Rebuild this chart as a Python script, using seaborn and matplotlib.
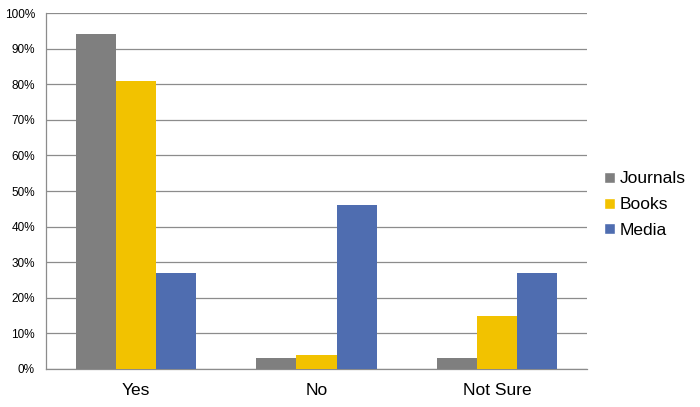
import pandas as pd
import matplotlib
matplotlib.use("Agg")
import matplotlib.pyplot as plt
import seaborn as sns
from matplotlib.patches import Patch
from matplotlib.ticker import FuncFormatter

# data
answers = ["Yes", "No", "Not Sure"]
journals = [94, 3, 3]
books = [81, 4, 15]
media = [27, 46, 27]
series = ["Journals", "Books", "Media"]
colors = ["#7f7f7f", "#f2c200", "#4f6db0"]

df = pd.DataFrame({
    "Answer": answers * 3,
    "Source": ["Journals"] * 3 + ["Books"] * 3 + ["Media"] * 3,
    "Value": journals + books + media,
})

sns.set_style("white")
plt.rcParams["font.family"] = ["Liberation Sans", "DejaVu Sans"]
plt.rcParams["text.color"] = "black"
plt.rcParams["xtick.color"] = "black"
plt.rcParams["ytick.color"] = "black"

fig = plt.figure(figsize=(7, 4.07), dpi=100)
ax = fig.add_axes([0.0657, 0.0934, 0.7729, 0.8746])

sns.barplot(data=df, x="Answer", y="Value", hue="Source", order=answers,
            hue_order=series, palette=colors, width=0.667, gap=0,
            saturation=1, errorbar=None, legend=False, ax=ax, zorder=3,
            linewidth=0)

ax.set_xlim(-0.5, 2.5)
ax.set_ylim(0, 100)
ax.set_yticks(range(0, 101, 10))
ax.yaxis.set_major_formatter(FuncFormatter(lambda v, p: f"{int(v)}%"))
ax.grid(axis="y", color="#8c8c8c", linewidth=0.9, zorder=0)
ax.set_axisbelow(True)

for s in ["top", "right"]:
    ax.spines[s].set_visible(False)
for s in ["left", "bottom"]:
    ax.spines[s].set_color("#8c8c8c")
    ax.spines[s].set_linewidth(0.9)

ax.tick_params(axis="y", length=4, color="#8c8c8c", labelcolor="black",
               labelsize=8.5, pad=4)
ax.tick_params(axis="x", which="major", length=0, labelcolor="black",
               labelsize=12.5, pad=10)
ax.set_xticks([-0.5, 0.5, 1.5, 2.5], minor=True)
ax.tick_params(axis="x", which="minor", length=5, color="#8c8c8c")
ax.set_xlabel("")
ax.set_ylabel("")

handles = [Patch(facecolor=c, label=s) for s, c in zip(series, colors)]
fig.legend(handles=handles, loc="center left", bbox_to_anchor=(0.851, 0.497),
           frameon=False, fontsize=12.5, handlelength=0.6, handleheight=0.6,
           handletextpad=0.3, labelspacing=0.62, borderpad=0)

fig.savefig("out.png", dpi=100)
